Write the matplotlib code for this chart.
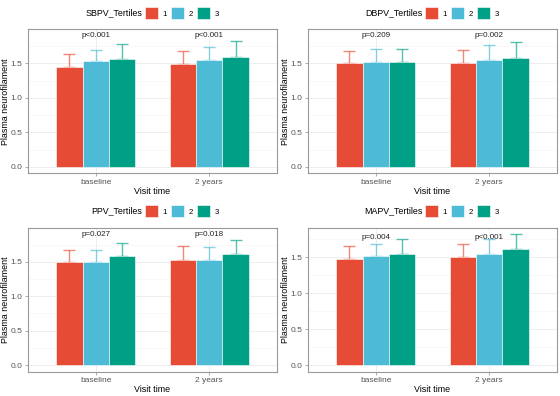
import numpy as np
import matplotlib
matplotlib.use('Agg')
import matplotlib.pyplot as plt
from matplotlib.patches import Patch

plt.rcParams['font.family'] = ['Liberation Sans', 'DejaVu Sans']

visits = ['baseline', '2 years']
tertiles = ['1', '2', '3']
colors = ['#E64B35', '#4DBBD5', '#00A087']

# mean per tertile, rows = visit
sbpv_mean = [[1.45, 1.53, 1.56], [1.49, 1.55, 1.60]]
sbpv_top = [[1.63, 1.69, 1.78], [1.68, 1.74, 1.83]]
dbpv_mean = [[1.50, 1.52, 1.52], [1.51, 1.55, 1.58]]
dbpv_top = [[1.68, 1.71, 1.71], [1.70, 1.76, 1.81]]
ppv_mean = [[1.50, 1.49, 1.58], [1.53, 1.52, 1.62]]
ppv_top = [[1.67, 1.67, 1.77], [1.73, 1.71, 1.82]]
mapv_mean = [[1.47, 1.52, 1.55], [1.50, 1.55, 1.61]]
mapv_top = [[1.65, 1.69, 1.75], [1.68, 1.75, 1.82]]

sbpv_p = ['p<0.001', 'p<0.001']
dbpv_p = ['p=0.209', 'p=0.002']
ppv_p = ['p=0.027', 'p=0.018']
mapv_p = ['p=0.004', 'p<0.001']
p_y = [1.9, 1.9, 1.9, 1.78]

panels = [
    ('SBPV_Tertiles', sbpv_mean, sbpv_top, sbpv_p),
    ('DBPV_Tertiles', dbpv_mean, dbpv_top, dbpv_p),
    ('PPV_Tertiles', ppv_mean, ppv_top, ppv_p),
    ('MAPV_Tertiles', mapv_mean, mapv_top, mapv_p),
]

W, H = 560, 396
fig = plt.figure(figsize=(W / 100, H / 100), dpi=100)

# panel boxes in pixels: left, top, right, bottom
boxes = [(27.7, 29.3, 277.3, 173.3), (307.7, 29.3, 557.3, 173.3),
         (27.7, 227.7, 277.3, 371.7), (307.7, 227.7, 557.3, 371.7)]
leg_y = [13, 13, 211, 211]

bw = 0.7 / 3
x = np.arange(1, len(visits) + 1)

for i, (name, mean, top, pl) in enumerate(panels):
    l, t, r, b = boxes[i]
    ax = fig.add_axes([l / W, 1 - b / H, (r - l) / W, (b - t) / H])
    mean = np.array(mean)
    top = np.array(top)
    for k in range(3):
        xs = x + (k - 1) * bw
        ax.errorbar(xs, mean[:, k], yerr=[np.zeros(2), top[:, k] - mean[:, k]],
                    fmt='none', ecolor=colors[k], alpha=0.65, elinewidth=1.0,
                    capsize=4, capthick=1.0, zorder=2)
        ax.bar(xs, mean[:, k], width=bw, color=colors[k], edgecolor='white',
               linewidth=0.4, zorder=3)
    for j in range(2):
        ax.text(x[j], p_y[i], pl[j], ha='center', va='center', fontsize=5.8,
                color='#222222', zorder=4)
    hi = max(p_y[i], top.max())
    ax.set_ylim(-0.05 * hi, hi * 1.05)
    ax.set_xlim(0.4, 2.6)
    ax.set_xticks(x)
    ax.set_xticklabels(visits)
    ax.set_yticks([0, 0.5, 1.0, 1.5])
    ax.set_yticklabels(['0.0', '0.5', '1.0', '1.5'])
    ax.set_yticks([0.25, 0.75, 1.25, 1.75], minor=True)
    ax.grid(True, which='major', color='#EBEBEB', linewidth=0.6, zorder=0)
    ax.grid(True, which='minor', axis='y', color='#F3F3F3', linewidth=0.4, zorder=0)
    ax.set_axisbelow(True)
    ax.tick_params(axis='both', which='major', labelsize=6.0, colors='#888888',
                   labelcolor='#555555', length=2.5, width=0.5, pad=1.5)
    ax.tick_params(axis='y', which='minor', length=0)
    for s in ax.spines.values():
        s.set_color('#999999')
        s.set_linewidth(0.8)
    ax.set_xlabel('Visit time', fontsize=6.4)
    ax.set_ylabel('Plasma neurofilament', fontsize=6.4)
    # label offsets in pixels from the panel edges
    ax.xaxis.set_label_coords(0.5, -13.5 / (b - t))
    ax.yaxis.set_label_coords(-17.5 / (r - l), 0.5)

    # legend above panel
    cx = (l + r) / 2
    handles = [Patch(facecolor=c, edgecolor='white', linewidth=0.4) for c in colors]
    fig.legend(handles, tertiles, ncol=3, loc='center left',
               bbox_to_anchor=((cx - 8) / W, 1 - leg_y[i] / H),
               frameon=False, fontsize=5.6, handlelength=1.7, handleheight=1.8,
               handletextpad=0.6, columnspacing=0.5, borderpad=0, borderaxespad=0)
    fig.text((cx - 10) / W, 1 - leg_y[i] / H, name, ha='right', va='center',
             fontsize=6.4)

fig.savefig('out.png', dpi=100)
